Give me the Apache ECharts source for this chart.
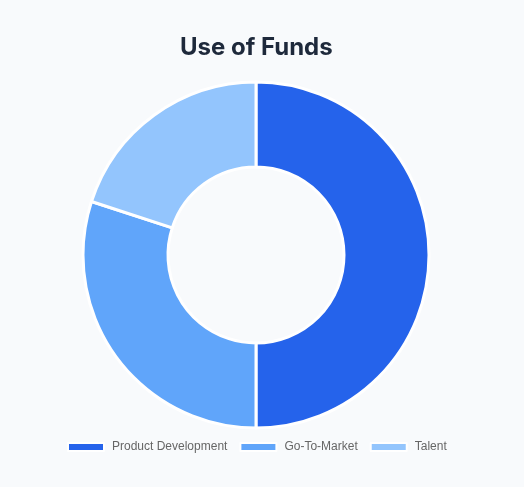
<!DOCTYPE html>
<html><head><meta charset="utf-8">
<script src="https://cdn.jsdelivr.net/npm/echarts@6/dist/echarts.min.js"></script>
<style>html,body{margin:0;padding:0;background:#f8fafc;}#c{width:524px;height:487px;}</style>
</head><body><div id="c"></div>
<script>
const categories = ["Product Development", "Go-To-Market", "Talent"];
const values = [50, 30, 20];
const colors = ["#2563eb", "#60a5fa", "#93c5fd"];
const chart = echarts.init(document.getElementById('c'));
chart.setOption({
  backgroundColor: '#f8fafc',
  title: {
    text: 'Use of Funds', left: 175, top: 31,
    textStyle: { fontFamily: 'Inter', fontSize: 24, fontWeight: 'bold', color: '#1e293b' }
  },
  legend: {
    bottom: 29, left: 62, itemWidth: 36, itemHeight: 8, itemGap: 12, icon: 'rect',
    textStyle: { fontFamily: 'Liberation Sans, Arial, sans-serif', fontSize: 12, color: '#666666', padding: [0, 0, 0, 3] },
    data: categories
  },
  series: [{
    type: 'pie', radius: [88, 173], center: [256, 255], startAngle: 90, clockwise: true,
    label: { show: false }, labelLine: { show: false },
    itemStyle: { borderColor: '#ffffff', borderWidth: 3 },
    emphasis: { disabled: true },
    data: categories.map((c, i) => ({ name: c, value: values[i], itemStyle: { color: colors[i] } }))
  }]
});
</script></body></html>
